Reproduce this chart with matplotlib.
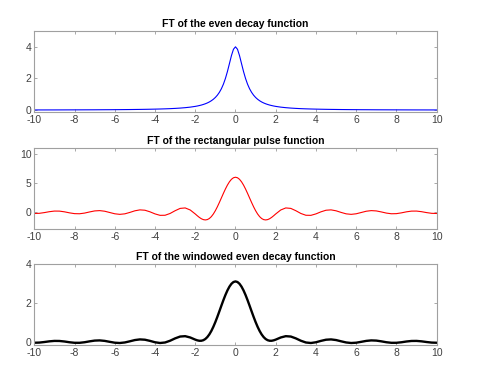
import matplotlib
matplotlib.use('Agg')
import matplotlib.pyplot as plt

# frequency samples
w = [-10, -9.75, -9.5, -9.25, -9, -8.75, -8.5, -8.25, -8, -7.75, -7.5, -7.25,
     -7, -6.75, -6.5, -6.25, -6, -5.75, -5.5, -5.25, -5, -4.75, -4.5, -4.25,
     -4, -3.75, -3.5, -3.25, -3, -2.75, -2.5, -2.25,
     -2, -1.9, -1.8, -1.7, -1.6, -1.5, -1.4, -1.3, -1.2, -1.1, -1, -0.9, -0.8,
     -0.7, -0.6, -0.5, -0.4, -0.3, -0.2, -0.1,
     0, 0.1, 0.2, 0.3, 0.4, 0.5, 0.6, 0.7, 0.8, 0.9, 1, 1.1, 1.2, 1.3, 1.4,
     1.5, 1.6, 1.7, 1.8, 1.9, 2,
     2.25, 2.5, 2.75, 3, 3.25, 3.5, 3.75, 4, 4.25, 4.5, 4.75, 5, 5.25, 5.5,
     5.75, 6, 6.25, 6.5, 6.75, 7, 7.25, 7.5, 7.75, 8, 8.25, 8.5, 8.75, 9,
     9.25, 9.5, 9.75, 10]

even_decay = [0.010, 0.011, 0.011, 0.012, 0.012, 0.013, 0.014, 0.015, 0.016,
              0.017, 0.018, 0.019, 0.020, 0.022, 0.024, 0.025, 0.028, 0.030,
              0.033, 0.036, 0.040, 0.044, 0.049, 0.055, 0.062, 0.070, 0.080,
              0.092, 0.108, 0.128, 0.154, 0.188,
              0.235, 0.259, 0.287, 0.318, 0.356, 0.400, 0.452, 0.515, 0.592,
              0.685, 0.800, 0.943, 1.124, 1.351, 1.639, 2.000, 2.439, 2.941,
              3.448, 3.846,
              4.000, 3.846, 3.448, 2.941, 2.439, 2.000, 1.639, 1.351, 1.124,
              0.943, 0.800, 0.685, 0.592, 0.515, 0.452, 0.400, 0.356, 0.318,
              0.287, 0.259, 0.235,
              0.188, 0.154, 0.128, 0.108, 0.092, 0.080, 0.070, 0.062, 0.055,
              0.049, 0.044, 0.040, 0.036, 0.033, 0.030, 0.028, 0.025, 0.024,
              0.022, 0.020, 0.019, 0.018, 0.017, 0.016, 0.015, 0.014, 0.013,
              0.012, 0.012, 0.011, 0.011, 0.010]

rect_pulse = [-0.198, -0.170, -0.047, 0.108, 0.213, 0.206, 0.085, -0.091,
              -0.226, -0.246, -0.130, 0.066, 0.239, 0.292, 0.186, -0.032,
              -0.250, -0.348, -0.259, -0.016, 0.260, 0.418, 0.357, 0.086,
              -0.268, -0.516, -0.503, -0.197, 0.275, 0.671, 0.750, 0.400,
              -0.279, -0.580, -0.859, -1.089, -1.245, -1.303, -1.245, -1.058,
              -0.738, -0.287, 0.282, 0.950, 1.689, 2.466, 3.246, 3.990, 4.660,
              5.222, 5.646, 5.910,
              6.000, 5.910, 5.646, 5.222, 4.660, 3.990, 3.246, 2.466, 1.689,
              0.950, 0.282, -0.287, -0.738, -1.058, -1.245, -1.303, -1.245,
              -1.089, -0.859, -0.580, -0.279,
              0.400, 0.750, 0.671, 0.275, -0.197, -0.503, -0.516, -0.268,
              0.086, 0.357, 0.418, 0.260, -0.016, -0.259, -0.348, -0.250,
              -0.032, 0.186, 0.292, 0.239, 0.066, -0.130, -0.246, -0.226,
              -0.091, 0.085, 0.206, 0.213, 0.108, -0.047, -0.170, -0.198]

windowed = [-0.034, -0.026, 0.003, 0.038, 0.060, 0.057, 0.030, -0.009,
            -0.036, -0.037, -0.008, 0.038, 0.076, 0.086, 0.061, 0.013,
            -0.032, -0.047, -0.019, 0.040, 0.104, 0.137, 0.121, 0.062,
            -0.009, -0.047, -0.021, 0.069, 0.190, 0.284, 0.303, 0.236,
            0.126, 0.090, 0.068, 0.068, 0.096, 0.157, 0.256, 0.393, 0.570,
            0.783, 1.027, 1.296, 1.579, 1.868, 2.150, 2.414, 2.648, 2.842,
            2.987, 3.077,
            3.108, 3.077, 2.987, 2.842, 2.648, 2.414, 2.150, 1.868, 1.579,
            1.296, 1.027, 0.783, 0.570, 0.393, 0.256, 0.157, 0.096, 0.068,
            0.068, 0.090, 0.126,
            0.236, 0.303, 0.284, 0.190, 0.069, -0.021, -0.047, -0.009, 0.062,
            0.121, 0.137, 0.104, 0.040, -0.019, -0.047, -0.032, 0.013, 0.061,
            0.086, 0.076, 0.038, -0.008, -0.037, -0.036, -0.009, 0.030, 0.057,
            0.060, 0.038, 0.003, -0.026, -0.034]

titles = ['FT of the even decay function',
          'FT of the rectangular pulse function',
          'FT of the windowed even decay function']
xticks = [-10, -8, -6, -4, -2, 0, 2, 4, 6, 8, 10]

plt.rcParams['font.family'] = ['Liberation Sans', 'DejaVu Sans']
plt.rcParams['axes.unicode_minus'] = False  # plain hyphen like the original

fig = plt.figure(figsize=(4.79, 3.87), dpi=100)

panels = [
    # position, data, colour, width, ylim, yticks
    ([0.0716, 0.7114, 0.840, 0.2085], even_decay, 'blue', 0.8, (-0.1, 5), [0, 2, 4]),
    ([0.0716, 0.4083, 0.840, 0.2093], rect_pulse, 'red', 0.8, (-2.85, 11), [0, 5, 10]),
    ([0.0716, 0.1085, 0.840, 0.2093], windowed, 'black', 1.7, (-0.15, 4), [0, 2, 4]),
]

for i, (pos, y, col, lw, yl, yt) in enumerate(panels):
    ax = fig.add_axes(pos)
    ax.plot(w, y, color=col, lw=lw)
    ax.set_xlim(-10, 10)
    ax.set_ylim(yl)
    ax.set_xticks(xticks)
    ax.set_yticks(yt)
    ax.set_title(titles[i], fontsize=7.5, fontweight='bold', pad=3)
    ax.tick_params(direction='in', length=2, width=0.6, colors='#9a9a9a',
                   labelcolor='#404040', labelsize=7.5, top=True, right=True)
    ax.tick_params(axis='x', pad=2.5)
    ax.tick_params(axis='y', pad=2)
    for s in ax.spines.values():
        s.set_color('#a0a0a0')
        s.set_linewidth(0.8)

plt.savefig('out.png', dpi=100)
